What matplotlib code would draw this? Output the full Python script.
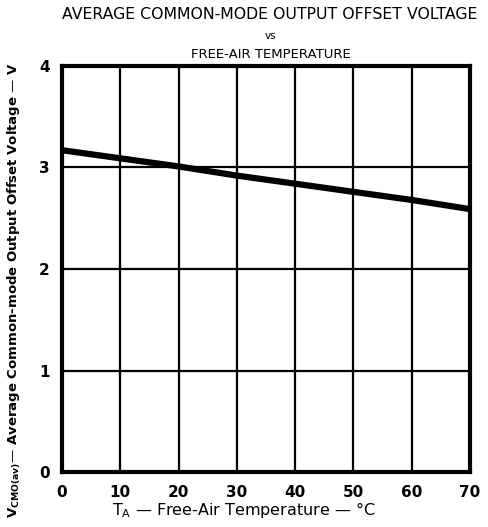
import matplotlib
matplotlib.use('Agg')
import matplotlib.pyplot as plt

# data
temps = [0, 10, 20, 30, 40, 50, 60, 70]
v_cmo = [3.17, 3.09, 3.01, 2.92, 2.84, 2.76, 2.68, 2.59]
x_ticks = [0, 10, 20, 30, 40, 50, 60, 70]
y_ticks = [0, 1, 2, 3, 4]

plt.rcParams['font.family'] = ['DejaVu Sans']

fig = plt.figure(figsize=(4.88, 5.27), dpi=100)
ax = fig.add_axes([0.127, 0.104, 0.836, 0.771])

ax.plot(temps, v_cmo, color='black', linewidth=4.5, solid_capstyle='butt')

ax.set_xlim(0, 70)
ax.set_ylim(0, 4)
ax.set_xticks(x_ticks)
ax.set_yticks(y_ticks)
ax.grid(True, color='black', linewidth=1.6)
ax.set_axisbelow(True)
for s in ax.spines.values():
    s.set_linewidth(3)
ax.tick_params(length=0, labelsize=11, pad=9)
for lbl in ax.get_xticklabels() + ax.get_yticklabels():
    lbl.set_fontweight('bold')

fig.text(0.553, 0.972, 'AVERAGE COMMON-MODE OUTPUT OFFSET VOLTAGE',
         ha='center', va='center', fontsize=11.3)
fig.text(0.555, 0.931, 'vs', ha='center', va='center', fontsize=7.5)
fig.text(0.555, 0.897, 'FREE-AIR TEMPERATURE', ha='center', va='center', fontsize=9.5)

fig.text(0.5, 0.032, r'T$_\mathregular{A}$ — Free-Air Temperature — °C',
         ha='center', va='center', fontsize=11.5)
fig.text(0.03, 0.45,
         r'V$_\mathregular{CMO(av)}$— Average Common-mode Output Offset Voltage — V',
         ha='center', va='center', rotation=90, fontsize=9.5, fontweight='bold')

fig.savefig('out.png', dpi=100)
